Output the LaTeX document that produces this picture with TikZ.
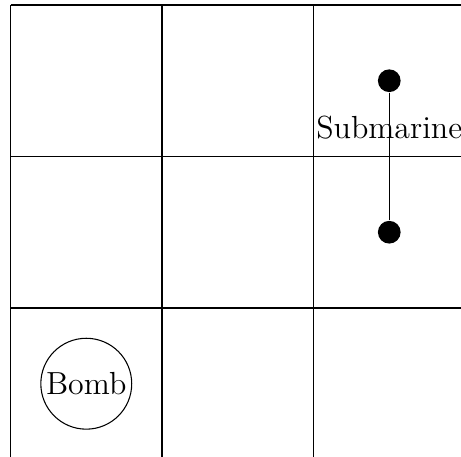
\documentclass[tikz,border=0pt,12pt]{standalone}
\begin{document}
\begin{tikzpicture}[dot/.style={circle, fill=black, inner sep=0pt, minimum size=0.3cm},
    bomb/.style={circle, draw, inner sep=0pt, minimum size=1.2cm}]
    \useasboundingbox (-0.139,0.033) rectangle (5.947,6.066);
    \draw (0,0) grid[step=2] (6,6);
    \node[bomb] (bomb) at (1,1) {Bomb};
    \node[dot] (subtop) at (5,5) {};
    \node[dot] (subbot) at (5,3) {};
    \node[anchor=base] (sublabel) at (5,4.24) {Submarine};
    \draw (subtop) -- (subbot);
\end{tikzpicture}
\end{document}
